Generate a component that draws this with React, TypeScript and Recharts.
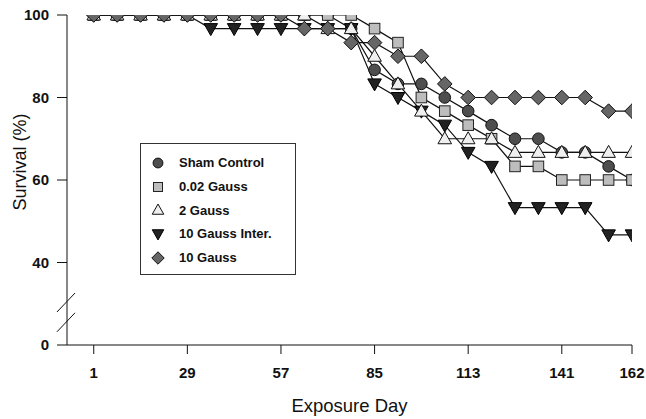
import React from 'react';
import {
  LineChart,
  Line,
  XAxis,
  YAxis,
  Legend,
  Label,
  ReferenceLine,
} from 'recharts';

// exposure days (weekly)
const days = [1, 8, 15, 22, 29, 36, 43, 50, 57, 64, 71, 78, 85, 92, 99, 106, 113, 120, 127, 134, 141, 148, 155, 162];

const sham = [100, 100, 100, 100, 100, 100, 100, 100, 100, 100, 100, 96.7, 86.7, 83.3, 83.3, 80, 76.7, 73.3, 70, 70, 66.7, 66.7, 63.3, 60];
const gauss002 = [100, 100, 100, 100, 100, 100, 100, 100, 100, 100, 100, 100, 96.7, 93.3, 80, 76.7, 73.3, 70, 63.3, 63.3, 60, 60, 60, 60];
const gauss2 = [100, 100, 100, 100, 100, 100, 100, 100, 100, 100, 96.7, 96.7, 90, 83.3, 76.7, 70, 70, 70, 66.7, 66.7, 66.7, 66.7, 66.7, 66.7];
const gauss10Inter = [100, 100, 100, 100, 100, 96.7, 96.7, 96.7, 96.7, 96.7, 96.7, 96.7, 83.3, 80, 76.7, 73.3, 66.7, 63.3, 53.3, 53.3, 53.3, 53.3, 46.7, 46.7];
const gauss10 = [100, 100, 100, 100, 100, 100, 100, 100, 100, 96.7, 96.7, 93.3, 93.3, 90, 90, 83.3, 80, 80, 80, 80, 80, 80, 76.7, 76.7];

const xTicks = [1, 29, 57, 85, 113, 141, 162];
const yTicks = [20, 40, 60, 80, 100];

const data = days.map((day, i) => ({
  day,
  sham: sham[i],
  gauss002: gauss002[i],
  gauss2: gauss2[i],
  gauss10Inter: gauss10Inter[i],
  gauss10: gauss10[i],
}));

type ShapeKind = 'circle' | 'square' | 'up' | 'down' | 'diamond';

// drawing order matters for overlapping markers
const series: { key: string; name: string; shape: ShapeKind }[] = [
  { key: 'sham', name: 'Sham Control', shape: 'circle' },
  { key: 'gauss002', name: '0.02 Gauss', shape: 'square' },
  { key: 'gauss10Inter', name: '10 Gauss Inter.', shape: 'down' },
  { key: 'gauss2', name: '2 Gauss', shape: 'up' },
  { key: 'gauss10', name: '10 Gauss', shape: 'diamond' },
];
const legendOrder = ['sham', 'gauss002', 'gauss2', 'gauss10Inter', 'gauss10'];

const FONT = '"Liberation Sans", Arial, sans-serif';

const Marker = ({ shape, cx, cy, s = 1 }: { shape: ShapeKind; cx: number; cy: number; s?: number }) => {
  const stroke = '#111';
  switch (shape) {
    case 'circle':
      return <circle cx={cx} cy={cy} r={5.8 * s} fill="#4e4e4e" stroke={stroke} strokeWidth={1} />;
    case 'square':
      return <rect x={cx - 5.3 * s} y={cy - 5.3 * s} width={10.6 * s} height={10.6 * s} fill="#bdbdbd" stroke="#222" strokeWidth={1} />;
    case 'up':
      return (
        <polygon
          points={`${cx},${cy - 7 * s} ${cx + 6.8 * s},${cy + 5 * s} ${cx - 6.8 * s},${cy + 5 * s}`}
          fill="#efefef"
          stroke={stroke}
          strokeWidth={1}
        />
      );
    case 'down':
      return (
        <polygon
          points={`${cx - 6.8 * s},${cy - 5 * s} ${cx + 6.8 * s},${cy - 5 * s} ${cx},${cy + 7 * s}`}
          fill="#222"
          stroke="#000"
          strokeWidth={1}
        />
      );
    default:
      return (
        <polygon
          points={`${cx},${cy - 7.3 * s} ${cx + 7.3 * s},${cy} ${cx},${cy + 7.3 * s} ${cx - 7.3 * s},${cy}`}
          fill="#666"
          stroke={stroke}
          strokeWidth={1}
        />
      );
  }
};

const makeDot = (shape: ShapeKind) => (props: any) => {
  const { cx, cy, index } = props;
  if (cx == null || cy == null) return <g key={`${shape}-${index}`} />;
  return (
    <g key={`${shape}-${index}`}>
      <Marker shape={shape} cx={cx} cy={cy} />
    </g>
  );
};

const renderLegend = () => (
  <div
    style={{
      border: '1px solid #333',
      background: '#fff',
      width: 154,
      padding: '7px 0 5px 0',
      fontFamily: FONT,
      fontWeight: 700,
      fontSize: 13,
      color: '#111',
    }}
  >
    {legendOrder.map((k) => {
      const s = series.find((x) => x.key === k)!;
      return (
        <div key={k} style={{ display: 'flex', alignItems: 'center', height: 23.7 }}>
          <svg width={34} height={20} style={{ flex: 'none' }}>
            <Marker shape={s.shape} cx={17} cy={10} s={0.85} />
          </svg>
          <span style={{ marginLeft: 4 }}>{s.name}</span>
        </div>
      );
    })}
  </div>
);

const App = () => (
  <div style={{ position: 'absolute', left: 0, top: 0, width: 646, height: 419, background: '#fff' }}>
    <LineChart width={646} height={419} data={data} margin={{ top: 15, right: 14, left: 0, bottom: 0 }}>
      <XAxis
        dataKey="day"
        type="number"
        domain={[-7, 162]}
        ticks={xTicks}
        allowDataOverflow
        height={74}
        stroke="#111"
        tickSize={9}
        tickMargin={13}
        tick={{ fill: '#111', fontSize: 15, fontWeight: 700, fontFamily: FONT }}
      >
        <Label
          value="Exposure Day"
          position="insideBottom"
          offset={7}
          style={{ fill: '#111', fontSize: 18.5, fontFamily: FONT }}
        />
      </XAxis>
      <YAxis
        type="number"
        domain={[20, 100]}
        ticks={yTicks}
        allowDataOverflow
        width={67}
        stroke="#111"
        tickSize={10}
        tickMargin={8}
        tickFormatter={(v: number) => (v === 20 ? '0' : String(v))}
        tick={{ fill: '#111', fontSize: 15, fontWeight: 700, fontFamily: FONT }}
      >
        <Label
          value="Survival (%)"
          content={() => (
            <text
              transform="translate(26,162) rotate(-90)"
              textAnchor="middle"
              style={{ fill: '#111', fontSize: 18, fontFamily: FONT }}
            >
              Survival (%)
            </text>
          )}
        />
      </YAxis>
      {/* axis break marks */}
      <ReferenceLine
        segment={[{ x: -10, y: 28 }, { x: -4.6, y: 32.6 }]}
        stroke="#111"
        strokeWidth={1}
        ifOverflow="visible"
      />
      <ReferenceLine
        segment={[{ x: -10, y: 23.2 }, { x: -4.6, y: 27.8 }]}
        stroke="#111"
        strokeWidth={1}
        ifOverflow="visible"
      />
      {series.map((s) => (
        <Line
          key={s.key}
          dataKey={s.key}
          name={s.name}
          type="linear"
          stroke="#111"
          strokeWidth={1.2}
          dot={makeDot(s.shape)}
          activeDot={false}
          isAnimationActive={false}
        />
      ))}
      <Legend
        layout="vertical"
        align="center"
        verticalAlign="middle"
        content={renderLegend}
        wrapperStyle={{ left: 140, top: 143, width: 'auto', height: 'auto' }}
      />
    </LineChart>
  </div>
);

export default App;
